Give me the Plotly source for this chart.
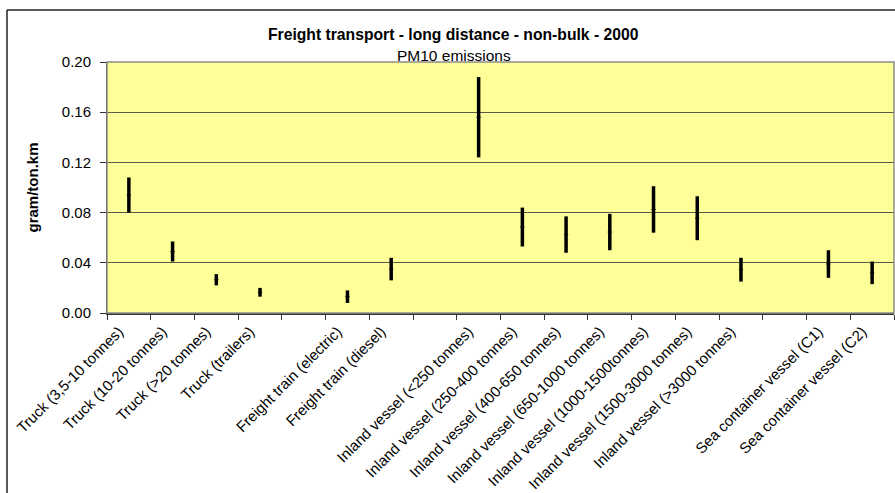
import plotly.graph_objects as go

# Transport modes on the category axis; blank entries separate the groups
categories = [
    "Truck (3,5-10 tonnes)",
    "Truck (10-20 tonnes)",
    "Truck (>20 tonnes)",
    "Truck (trailers)",
    " ",
    "Freight train (electric)",
    "Freight train (diesel)",
    "  ",
    "Inland vessel (<250 tonnes)",
    "Inland vessel (250-400 tonnes)",
    "Inland vessel (400-650 tonnes)",
    "Inland vessel (650-1000 tonnes)",
    "Inland vessel (1000-1500tonnes)",
    "Inland vessel (1500-3000 tonnes)",
    "Inland vessel (>3000 tonnes)",
    "   ",
    "Sea container vessel (C1)",
    "Sea container vessel (C2)",
]

# PM10 emission range per mode (gram/ton.km)
low = [0.080, 0.041, 0.022, 0.013, None, 0.008, 0.026, None,
       0.124, 0.053, 0.048, 0.050, 0.064, 0.058, 0.025, None, 0.028, 0.023]
high = [0.108, 0.057, 0.031, 0.020, None, 0.018, 0.044, None,
        0.188, 0.084, 0.077, 0.079, 0.101, 0.093, 0.044, None, 0.050, 0.041]

y_ticks = [0.00, 0.04, 0.08, 0.12, 0.16, 0.20]

FONT = "Liberation Sans, Arial, sans-serif"

# vertical low-high segments
seg_x, seg_y = [], []
for c, lo, hi in zip(categories, low, high):
    if lo is None:
        continue
    seg_x += [c, c, None]
    seg_y += [lo, hi, None]

mid = [None if lo is None else (lo + hi) / 2 for lo, hi in zip(low, high)]

fig = go.Figure()
fig.add_trace(go.Scatter(
    x=seg_x, y=seg_y, mode="lines",
    line=dict(color="black", width=3.5),
    hoverinfo="skip", showlegend=False,
))
fig.add_trace(go.Scatter(
    x=categories, y=mid, mode="markers",
    marker=dict(symbol="line-ew-open", size=3, color="black",
                line=dict(color="black", width=1)),
    showlegend=False,
))

L, R, T, B = 107, 1, 62, 180
W, H = 895, 493
pw, ph = W - L - R, H - T - B

def px_x(px):
    return (px - L) / pw

def px_y(py):
    return (H - B - py) / ph

fig.update_layout(
    width=W, height=H,
    margin=dict(l=L, r=R, t=T, b=B, pad=0, autoexpand=False),
    paper_bgcolor="white",
    plot_bgcolor="#FFFF99",
    font=dict(family=FONT, size=15, color="black"),
    xaxis=dict(
        type="category", automargin=False,
        categoryorder="array", categoryarray=categories,
        range=[-0.5, len(categories) - 0.5],
        tickson="boundaries", ticks="outside", ticklen=5,
        tickcolor="#333333", tickwidth=1,
        tickangle=-45, ticklabelstandoff=2, ticklabelshift=-10,
        tickfont=dict(family=FONT, size=15, color="black"),
        showline=True, linecolor="#333333", linewidth=2,
        showgrid=False, zeroline=False, fixedrange=True,
    ),
    yaxis=dict(
        automargin=False,
        range=[0, 0.2], tickvals=y_ticks, tickformat=".2f",
        ticks="outside", ticklen=6, tickcolor="#333333", tickwidth=1,
        ticklabelstandoff=6,
        tickfont=dict(family=FONT, size=15, color="black"),
        showline=True, linecolor="#333333", linewidth=1,
        showgrid=True, gridcolor="#5a5a4a", gridwidth=1,
        zeroline=False, fixedrange=True,
    ),
    shapes=[
        # plot area border
        dict(type="rect", xref="paper", yref="paper", x0=0, x1=1, y0=0, y1=1,
             line=dict(color="#8c8c8c", width=1.5), layer="above"),
        # chart frame: top and left edges
        dict(type="line", xref="paper", yref="paper",
             x0=px_x(7), x1=px_x(W), y0=px_y(10), y1=px_y(10),
             line=dict(color="#222222", width=1.5), layer="above"),
        dict(type="line", xref="paper", yref="paper",
             x0=px_x(7), x1=px_x(7), y0=px_y(10), y1=px_y(H),
             line=dict(color="#222222", width=1.5), layer="above"),
    ],
    annotations=[
        dict(text="<b>Freight transport - long distance - non-bulk - 2000</b>",
             xref="paper", yref="paper", x=px_x(453.5), y=1,
             xanchor="center", yanchor="middle", yshift=28, showarrow=False,
             font=dict(family=FONT, size=15.7, color="black")),
        dict(text="PM10 emissions",
             xref="paper", yref="paper", x=px_x(453.5), y=1,
             xanchor="center", yanchor="middle", yshift=7, showarrow=False,
             font=dict(family=FONT, size=15.5, color="black")),
        dict(text="<b>gram/ton.km</b>", textangle=-90,
             xref="paper", yref="paper", x=0, y=0.5, xshift=-75,
             xanchor="center", yanchor="middle", showarrow=False,
             font=dict(family=FONT, size=15, color="black")),
    ],
)

fig.write_html("out.html")
